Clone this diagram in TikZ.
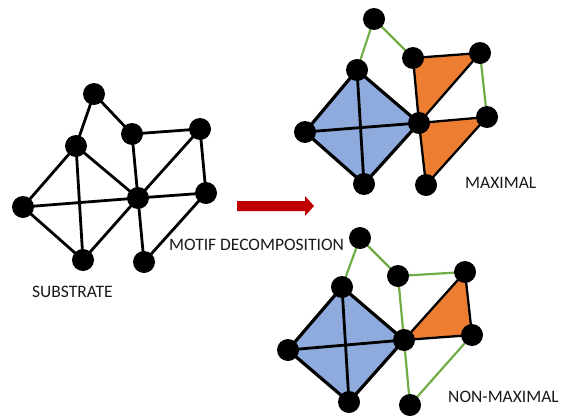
\documentclass[tikz,border=0pt]{standalone}
\usepackage{fontspec}
\setmainfont{Carlito}
\definecolor{mblue}{HTML}{8FAADC}
\definecolor{morange}{HTML}{ED7D31}
\definecolor{mgreen}{HTML}{70AD47}
\definecolor{mred}{HTML}{C00000}
\begin{document}
\begin{tikzpicture}[x=1pt,y=-1pt,
  vtx/.style={circle,fill=black,inner sep=0pt,minimum size=22pt},
  edge/.style={line width=2.8pt,black},
  gedge/.style={line width=2.2pt,mgreen},
  bout/.style={line width=3.2pt,black,line join=round},
  oout/.style={line width=2.3pt,black,line join=round},
  lbl/.style={font=\fontsize{17.5}{20}\selectfont,text=black!90,inner sep=0pt}]
\useasboundingbox (0,0) rectangle (564,415);
% ---------- substrate ----------
\coordinate (sA) at (94,94);
\coordinate (sB) at (76,146);
\coordinate (sC) at (132,134);
\coordinate (sD) at (200,129);
\coordinate (sE) at (23,207);
\coordinate (sF) at (138,198);
\coordinate (sG) at (206,193);
\coordinate (sH) at (83,260);
\coordinate (sI) at (144,262);
\draw[edge] (sA)--(sB) (sA)--(sC) (sC)--(sD) (sC)--(sF) (sD)--(sF) (sD)--(sG)
  (sB)--(sE) (sB)--(sH) (sB)--(sF) (sE)--(sF) (sE)--(sH) (sH)--(sF) (sF)--(sG)
  (sF)--(sI) (sG)--(sI);
\foreach \n in {sA,sB,sC,sD,sE,sF,sG,sH,sI} \node[vtx] (n\n) at (\n) {};
% ---------- maximal ----------
\coordinate (mT) at (374,19);
\coordinate (mB) at (357,70);
\coordinate (mO) at (413,58);
\coordinate (mR) at (480,53);
\coordinate (mL) at (305,132);
\coordinate (mC) at (419,123);
\coordinate (mQ) at (487,117);
\coordinate (mD) at (364,184);
\coordinate (mE) at (426,185);
\fill[mblue] (mL)--(mB)--(mC)--(mD)--cycle;
\fill[morange] (mO)--(mR)--(mC)--cycle;
\fill[morange] (mC)--(mQ)--(mE)--cycle;
\draw[gedge] (mT)--(mB) (mT)--(mO) (mR)--(mQ);
\draw[oout] (mO)--(mR)--(mC)--cycle;
\draw[oout] (mC)--(mQ)--(mE)--cycle;
\draw[edge] (mL)--(mC) (mB)--(mD);
\draw[bout] (mL)--(mB)--(mC)--(mD)--cycle;
\foreach \n in {mT,mB,mO,mR,mL,mC,mQ,mD,mE} \node[vtx] (n\n) at (\n) {};
% ---------- non-maximal ----------
\coordinate (kT) at (360,238);
\coordinate (kB) at (342,287);
\coordinate (kM) at (398,276);
\coordinate (kR) at (465,272);
\coordinate (kL) at (288,350);
\coordinate (kC) at (404,340);
\coordinate (kQ) at (472,335);
\coordinate (kD) at (349,402);
\coordinate (kE) at (410,405);
\fill[mblue] (kL)--(kB)--(kC)--(kD)--cycle;
\fill[morange] (kC)--(kR)--(kQ)--cycle;
\draw[gedge] (kT)--(kB) (kT)--(kM) (kM)--(kR) (kM)--(kC) (kC)--(kE) (kQ)--(kE);
\draw[oout] (kC)--(kR)--(kQ)--cycle;
\draw[edge] (kL)--(kC) (kB)--(kD);
\draw[bout] (kL)--(kB)--(kC)--(kD)--cycle;
\foreach \n in {kT,kB,kM,kR,kL,kC,kQ,kD,kE} \node[vtx] (n\n) at (\n) {};
% ---------- arrow ----------
\fill[mred] (237,201)--(305,201)--(305,196)--(314,206)--(305,216)--(305,211)--(237,211)--cycle;
% ---------- labels ----------
\node[lbl,anchor=west] (lsub) at (32,292) {SUBSTRATE};
\node[lbl,anchor=west] (lmot) at (169,245) {MOTIF DECOMPOSITION};
\node[lbl,anchor=west] (lmax) at (465,183) {MAXIMAL};
\node[lbl,anchor=west] (lnon) at (448,397) {NON-MAXIMAL};
\end{tikzpicture}
\end{document}
